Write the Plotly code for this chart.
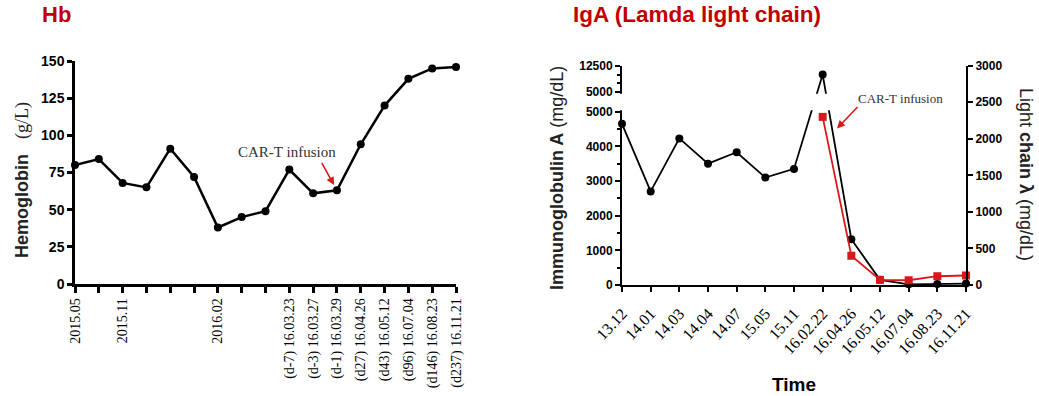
import plotly.graph_objects as go

W, H = 1039, 396

# ---------------- data ----------------
# Hemoglobin (g/L) over time
hb_labels = ["2015.05", "", "2015.11", "", "", "", "2016.02", "", "",
             "(d-7) 16.03.23", "(d-3) 16.03.27", "(d-1) 16.03.29",
             "(d27) 16.04.26", "(d43) 16.05.12", "(d96) 16.07.04",
             "(d146) 16.08.23", "(d237) 16.11.21"]
hb_values = [80, 84, 68, 65, 91, 72, 38, 45, 49, 77, 61, 63, 94, 120, 138, 145, 146]

# Immunoglobulin A (mg/dL) and lambda light chain (mg/dL)
iga_labels = ["13.12", "14.01", "14.03", "14.04", "14.07", "15.05", "15.11",
              "16.02.22", "16.04.26", "16.05.12", "16.07.04", "16.08.23", "16.11.21"]
iga_values = [4650, 2700, 4230, 3500, 3830, 3100, 3350, 10000, 1320, 150, 20, 30, 40]
lambda_values = [None, None, None, None, None, None, None, 2300, 400, 70, 65, 120, 130]

hb_ticks = [0, 25, 50, 75, 100, 125, 150]
iga_low_ticks = [0, 1000, 2000, 3000, 4000, 5000]
iga_low_minor = [500, 1500, 2500, 3500, 4500]
iga_high_ticks = [5000, 12500]
iga_high_minor = [7500, 10000]
lambda_ticks = [0, 500, 1000, 1500, 2000, 2500, 3000]

# ---------------- broken IgA axis ----------------
BREAK = 5000          # top of the lower segment
GAP = 560             # blank band between segments (axis units of the lower scale)
UPPER_SCALE = 767 / 7500  # compression of the 5000-12500 segment


def iga_low(v):
    return v


def iga_high(v):
    return BREAK + GAP + (v - BREAK) * UPPER_SCALE


def iga_pos(v):
    return iga_low(v) if v <= BREAK else iga_high(v)


def px(x):
    return x / W


def py(y):
    return 1 - y / H


BLACK = "black"
RED = "#d7191c"
TITLE_RED = "#c00000"
SANS = "Liberation Sans"
SERIF = "Liberation Serif"

fig = go.Figure()

# Hemoglobin
fig.add_trace(go.Scatter(
    x=list(range(len(hb_values))), y=hb_values, mode="lines+markers",
    line=dict(color=BLACK, width=2.5), marker=dict(color=BLACK, size=8),
    cliponaxis=False, xaxis="x", yaxis="y", showlegend=False, hoverinfo="skip"))

# Immunoglobulin A (broken left axis)
fig.add_trace(go.Scatter(
    x=list(range(len(iga_values))), y=[iga_pos(v) for v in iga_values],
    mode="lines+markers", line=dict(color=BLACK, width=1.8),
    marker=dict(color=BLACK, size=8), cliponaxis=False,
    xaxis="x2", yaxis="y2", showlegend=False, hoverinfo="skip"))

# Lambda light chain (right axis)
fig.add_trace(go.Scatter(
    x=list(range(len(lambda_values))), y=lambda_values,
    mode="lines+markers", line=dict(color=RED, width=1.8),
    marker=dict(color=RED, size=8, symbol="square"), cliponaxis=False,
    xaxis="x2", yaxis="y3", showlegend=False, hoverinfo="skip"))

axis_common = dict(showgrid=False, zeroline=False, showline=True, automargin=False,
                   linecolor=BLACK, ticks="outside", tickcolor=BLACK)

fig.update_layout(
    width=W, height=H,
    margin=dict(l=0, r=0, t=0, b=0),
    paper_bgcolor="white", plot_bgcolor="rgba(0,0,0,0)",
    xaxis=dict(domain=[px(75), px(456)], range=[0, len(hb_values) - 1],
               tickvals=list(range(len(hb_values))), ticktext=hb_labels,
               tickangle=-90, linewidth=2.5, tickwidth=2.5, ticklen=6,
               tickfont=dict(family=SERIF, size=14, color=BLACK),
               anchor="y", **axis_common),
    yaxis=dict(domain=[py(284), py(61)], range=[0, 150],
               tickvals=hb_ticks, linewidth=2.5, tickwidth=2.5, ticklen=5,
               tickfont=dict(family=SANS, size=14, color=BLACK, weight="bold"),
               anchor="x", **axis_common),
    xaxis2=dict(domain=[px(622), px(966)], range=[0, len(iga_values) - 1],
                tickvals=list(range(len(iga_values))), ticktext=iga_labels,
                tickangle=-47, linewidth=2, tickwidth=2, ticklen=5,
                ticklabelstandoff=6,
                tickfont=dict(family=SERIF, size=16, color=BLACK),
                anchor="y2", **axis_common),
    yaxis2=dict(domain=[py(285), py(65.7)], range=[0, iga_high(12500)],
                tickvals=[iga_low(v) for v in iga_low_ticks] + [iga_high(v) for v in iga_high_ticks],
                ticktext=[str(v) for v in iga_low_ticks] + [str(v) for v in iga_high_ticks],
                minor=dict(tickvals=[iga_low(v) for v in iga_low_minor] + [iga_high(v) for v in iga_high_minor],
                           ticks="outside", ticklen=3, tickwidth=1.5, tickcolor=BLACK),
                linewidth=2, tickwidth=2, ticklen=5,
                tickfont=dict(family=SANS, size=12, color=BLACK, weight="bold"),
                anchor="x2", **axis_common),
    yaxis3=dict(range=[0, 3000], tickvals=lambda_ticks, overlaying="y2", side="right",
                linewidth=2, tickwidth=2, ticklen=5,
                tickfont=dict(family=SANS, size=12, color=BLACK, weight="bold"),
                anchor="x2", **axis_common),
)

# blank band that breaks the IgA axis
fig.add_shape(type="rect", layer="above", xref="paper", yref="y2",
              x0=px(615), x1=px(962), y0=BREAK + 45, y1=BREAK + GAP - 45,
              fillcolor="white", line=dict(width=0))

annotations = [
    # panel titles
    dict(text="<b>Hb</b>", x=px(40), y=py(15), xanchor="left", yanchor="middle",
         font=dict(family=SANS, size=22, color=TITLE_RED)),
    dict(text="<b>IgA (Lamda light chain)</b>", x=px(571), y=py(15), xanchor="left",
         yanchor="middle", font=dict(family=SANS, size=22.5, color=TITLE_RED)),
    # axis titles
    dict(text="<b>Hemoglobin</b>\u00a0\u00a0\u00a0<span style=\"font-family:'Liberation Serif'\">(g/L)</span>",
         x=px(22), y=py(180), textangle=-90, xanchor="center", yanchor="middle",
         font=dict(family=SANS, size=18, color="#222")),
    dict(text="<b>Immunoglobulin A</b> (mg/dL)", x=px(557), y=py(178), textangle=-90,
         xanchor="center", yanchor="middle", font=dict(family=SANS, size=18, color="#222")),
    dict(text="Light <b>chain \u03bb</b> (mg/dL)", x=px(1026), y=py(174), textangle=90,
         xanchor="center", yanchor="middle", font=dict(family=SANS, size=18, color="#222")),
    dict(text="<b>Time</b>", x=px(794), y=py(384), xanchor="center", yanchor="middle",
         font=dict(family=SANS, size=19, color=BLACK)),
    # CAR-T infusion markers
    dict(text="CAR-T infusion", x=px(287), y=py(152), xanchor="center", yanchor="middle",
         font=dict(family=SERIF, size=15, color="#333")),
    dict(text="", x=11, y=hb_values[11], xref="x", yref="y", showarrow=True,
         ax=-16, ay=-29, standoff=6, arrowhead=2, arrowsize=1, arrowwidth=1.6,
         arrowcolor=RED),
    dict(text="CAR-T infusion", x=px(900), y=py(98), xanchor="center", yanchor="middle",
         font=dict(family=SERIF, size=13, color="#333")),
    dict(text="", x=7.5, y=2140, xref="x2", yref="y3", showarrow=True,
         ax=22, ay=-23, standoff=0, arrowhead=2, arrowsize=1, arrowwidth=1.6,
         arrowcolor=RED),
]
for a in annotations:
    a.setdefault("xref", "paper")
    a.setdefault("yref", "paper")
    a.setdefault("showarrow", False)
    fig.add_annotation(**a)

fig.write_html("out.html")
